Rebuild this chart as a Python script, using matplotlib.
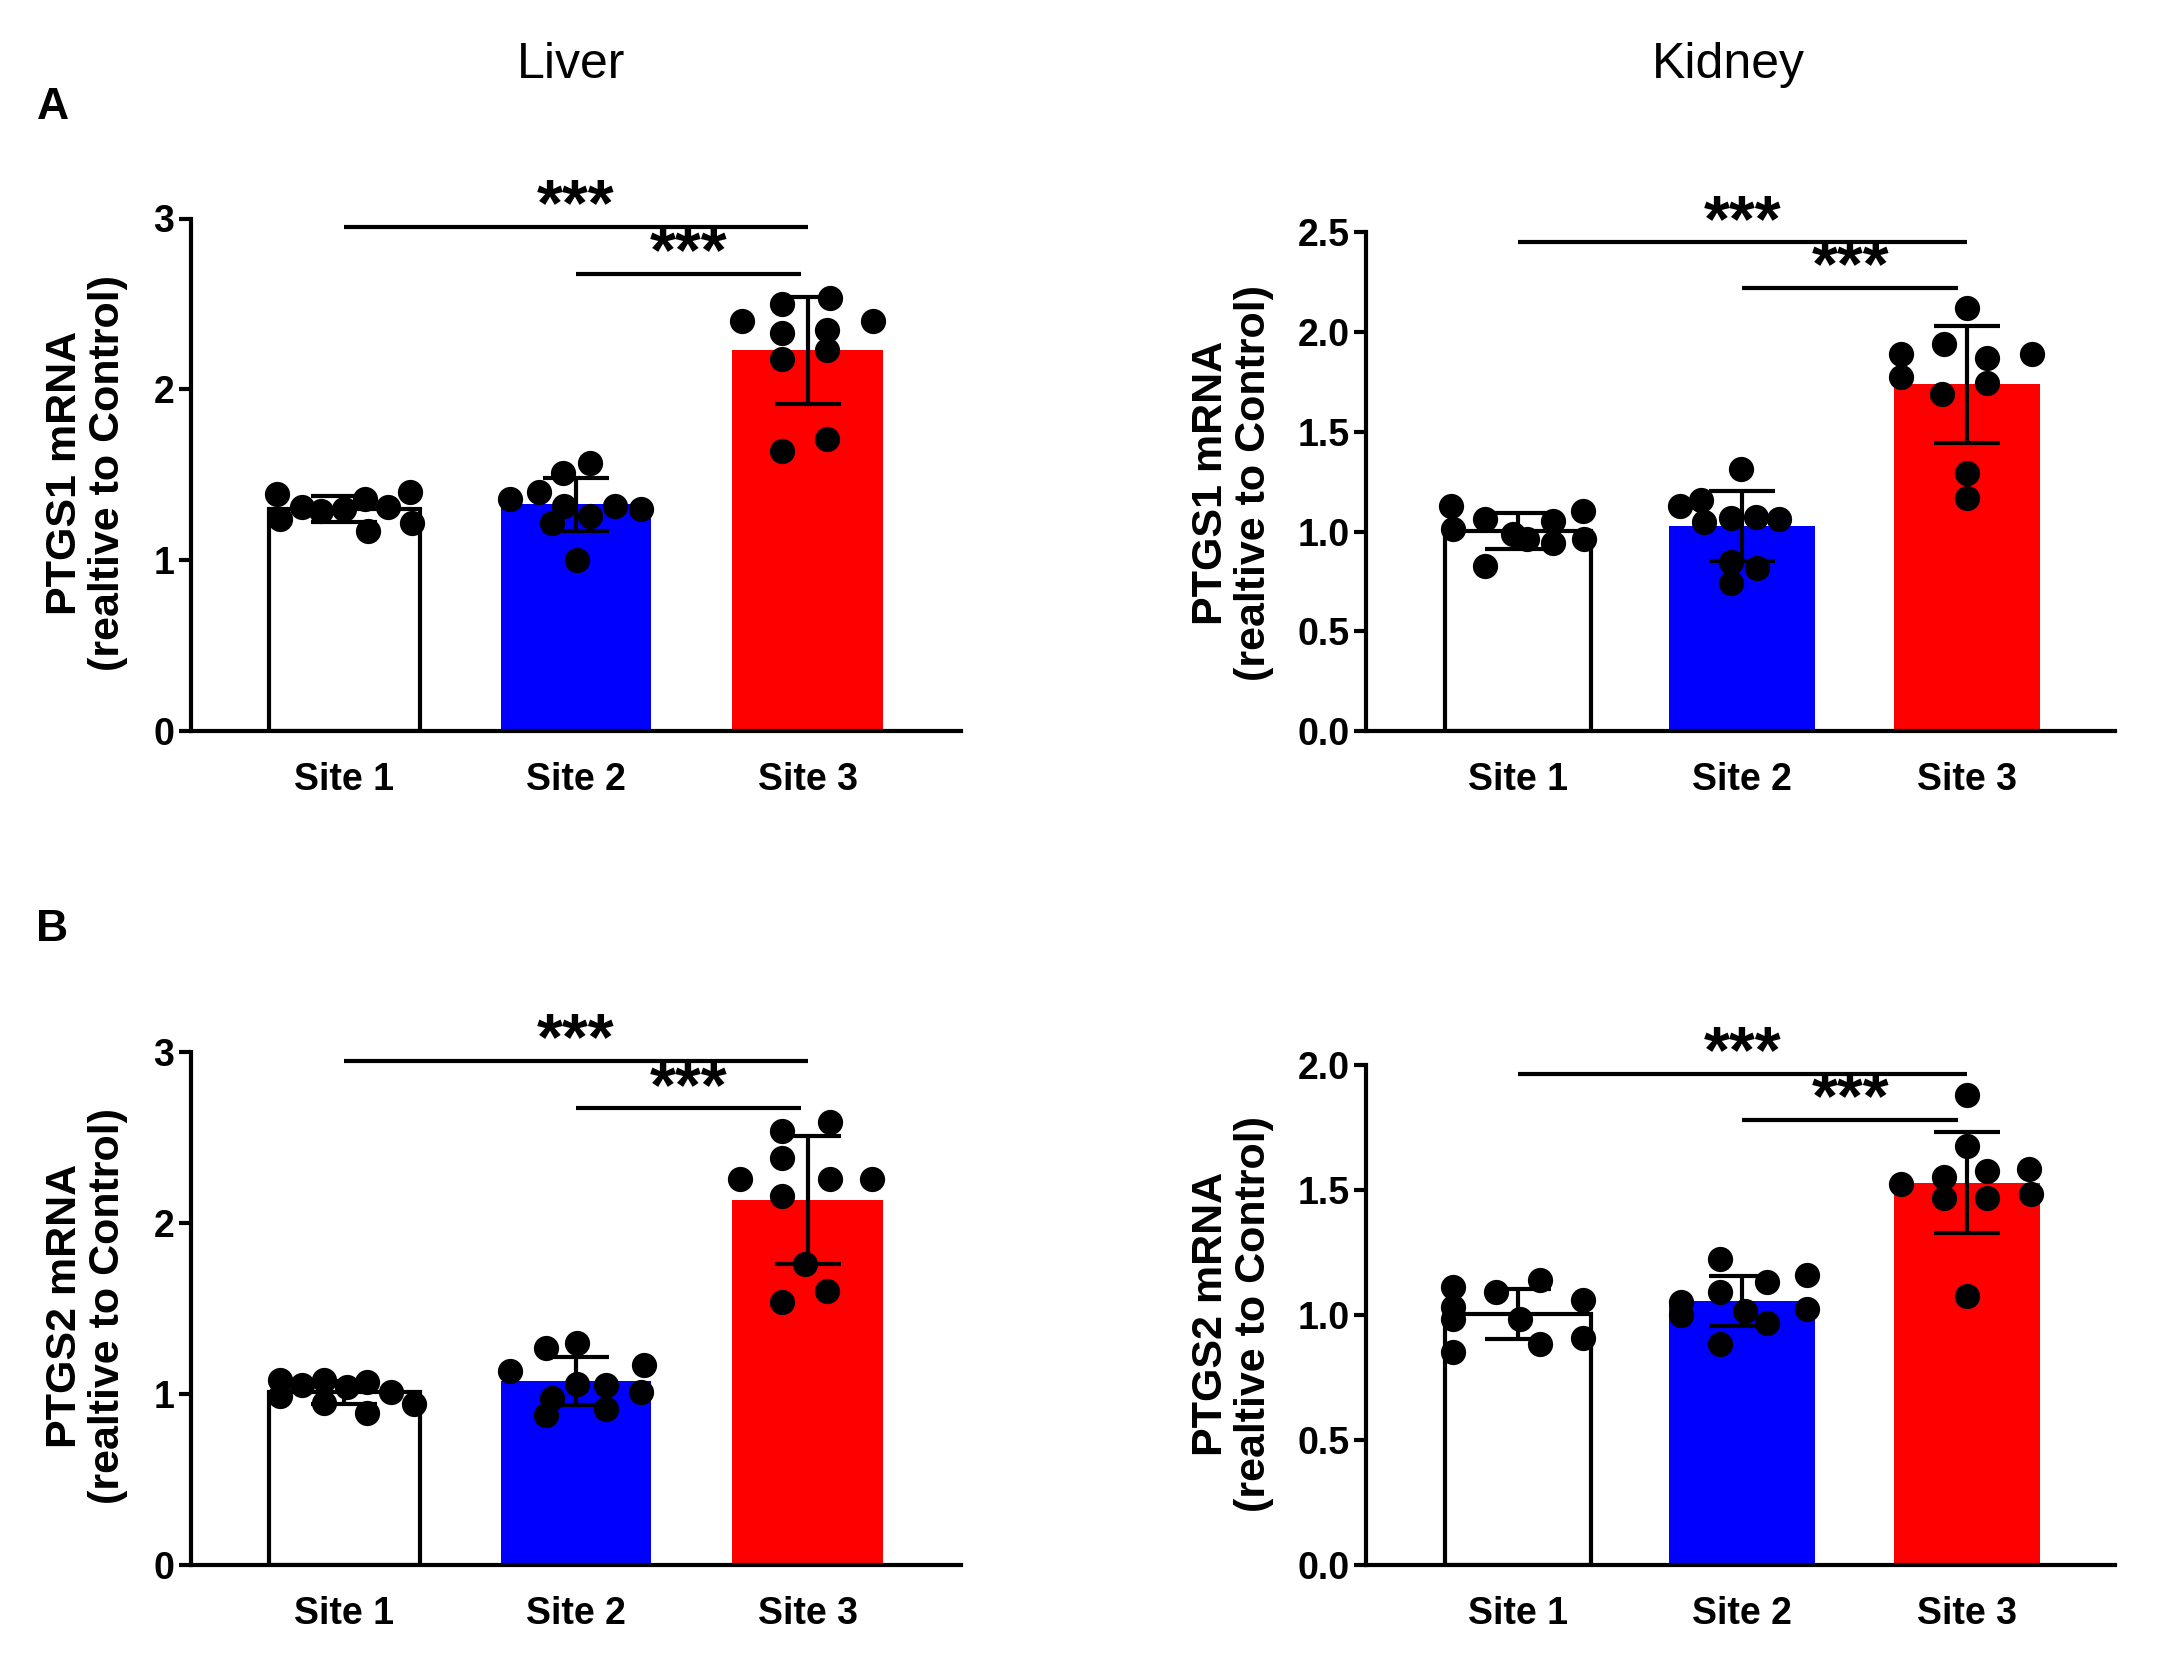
import numpy as np
import matplotlib
matplotlib.use("Agg")
import matplotlib.pyplot as plt

plt.rcParams['font.family'] = ['Liberation Sans', 'DejaVu Sans']

categories = ["Site 1", "Site 2", "Site 3"]
bar_colors = ["#FFFFFF", "#0000FF", "#FF0000"]

# ---- data: individual points (values) and horizontal scatter offsets ----
liver_ptgs1 = [
    [1.39, 1.24, 1.31, 1.29, 1.30, 1.36, 1.17, 1.31, 1.40, 1.22],
    [1.36, 1.40, 1.51, 1.57, 1.32, 1.00, 1.26, 1.32, 1.30, 1.22],
    [2.40, 2.50, 2.535, 2.33, 2.35, 2.40, 2.18, 2.23, 1.64, 1.71],
]
liver_ptgs1_dx = [
    [-0.29, -0.28, -0.185, -0.10, 0.0, 0.09, 0.10, 0.19, 0.285, 0.29],
    [-0.285, -0.16, -0.055, 0.06, -0.05, 0.005, 0.06, 0.17, 0.28, -0.105],
    [-0.285, -0.11, 0.095, -0.11, 0.085, 0.285, -0.11, 0.085, -0.11, 0.085],
]
kidney_ptgs1 = [
    [1.127, 1.015, 1.065, 0.825, 0.99, 0.96, 1.055, 0.94, 1.105, 0.96],
    [1.13, 1.16, 1.315, 1.05, 1.07, 1.075, 1.065, 0.74, 0.815, 0.845],
    [1.89, 1.775, 1.94, 2.12, 1.87, 1.89, 1.69, 1.745, 1.295, 1.17],
]
kidney_ptgs1_dx = [
    [-0.30, -0.29, -0.145, -0.145, -0.02, 0.04, 0.155, 0.155, 0.29, 0.295],
    [-0.28, -0.185, -0.005, -0.17, -0.05, 0.06, 0.165, -0.05, 0.065, -0.05],
    [-0.295, -0.295, -0.10, 0.0, 0.09, 0.29, -0.11, 0.09, 0.0, 0.0],
]
liver_ptgs2 = [
    [1.08, 0.99, 1.05, 1.08, 0.95, 1.04, 1.07, 0.89, 1.01, 0.94],
    [1.134, 1.268, 1.298, 1.17, 0.878, 1.06, 1.05, 0.915, 1.012, 0.976],
    [2.256, 2.537, 2.59, 2.378, 2.256, 2.256, 2.159, 1.76, 1.60, 1.537],
]
liver_ptgs2_dx = [
    [-0.28, -0.28, -0.185, -0.09, -0.09, 0.01, 0.097, 0.097, 0.20, 0.30],
    [-0.285, -0.13, 0.005, 0.295, -0.13, 0.005, 0.13, 0.13, 0.28, -0.105],
    [-0.29, -0.11, 0.095, -0.11, 0.095, 0.28, -0.11, -0.01, 0.085, -0.11],
]
kidney_ptgs2 = [
    [1.11, 1.033, 0.983, 0.85, 1.092, 0.983, 1.14, 0.883, 1.058, 0.908],
    [1.05, 1.0, 1.225, 1.092, 0.883, 1.133, 0.967, 1.158, 1.025, 1.017],
    [1.525, 1.55, 1.88, 1.675, 1.575, 1.583, 1.467, 1.467, 1.483, 1.075],
]
kidney_ptgs2_dx = [
    [-0.29, -0.29, -0.29, -0.29, -0.10, 0.01, 0.10, 0.10, 0.29, 0.29],
    [-0.275, -0.275, -0.10, -0.10, -0.10, 0.11, 0.11, 0.29, 0.29, 0.01],
    [-0.295, -0.10, 0.0, 0.0, 0.09, 0.275, -0.10, 0.09, 0.285, 0.0],
]

# significance brackets: (from, to, height, label)
liver_ptgs1_sig = [(0, 2, 2.95, "***"), (1, 1.97, 2.677, "***")]
kidney_ptgs1_sig = [(0, 2, 2.453, "***"), (1, 1.96, 2.223, "***")]
liver_ptgs2_sig = [(0, 2, 2.946, "***"), (1, 1.97, 2.67, "***")]
kidney_ptgs2_sig = [(0, 2, 1.963, "***"), (1, 1.96, 1.78, "***")]

liver_ticks = [0, 1, 2, 3]
liver_ticklabels = ["0", "1", "2", "3"]
kidney1_ticks = [0.0, 0.5, 1.0, 1.5, 2.0, 2.5]
kidney1_ticklabels = ["0.0", "0.5", "1.0", "1.5", "2.0", "2.5"]
kidney2_ticks = [0.0, 0.5, 1.0, 1.5, 2.0]
kidney2_ticklabels = ["0.0", "0.5", "1.0", "1.5", "2.0"]

W, H = 2157, 1677
fig = plt.figure(figsize=(W / 100, H / 100), dpi=100)
fig.patch.set_facecolor("white")


def px_axes(left, right, y0, ytop):
    return fig.add_axes([left / W, 1 - y0 / H, (right - left) / W, (y0 - ytop) / H])


LW = 3.0


def draw_panel(ax, pts, dxs, sig, ticks, ticklabels, ymax, xlim, star_dy):
    x = np.arange(len(categories))
    means = [np.mean(p) for p in pts]
    sds = [np.std(p, ddof=1) for p in pts]
    for i in range(3):
        ec = "black" if i == 0 else bar_colors[i]
        ax.bar(x[i], means[i], width=0.65, color=bar_colors[i], edgecolor=ec,
               linewidth=LW if i == 0 else 0, zorder=1)
    for i in range(3):
        ax.scatter(x[i] + np.array(dxs[i]), pts[i], s=330, color="black",
                   zorder=3, clip_on=False, linewidths=0)
    ax.errorbar(x, means, yerr=sds, fmt="none", ecolor="black", elinewidth=LW,
                capsize=24, capthick=LW, zorder=4, clip_on=False)
    for (a, b, h, lab) in sig:
        ax.plot([a, b], [h, h], color="black", lw=LW, clip_on=False,
                solid_capstyle="butt")
        ax.text((a + b) / 2, h + star_dy, lab, ha="center", va="center",
                fontsize=48, fontweight="bold", clip_on=False)
    ax.set_xlim(*xlim)
    ax.set_ylim(0, ymax)
    ax.set_xticks(x)
    ax.set_xticklabels(categories, fontsize=27, fontweight="bold")
    ax.set_yticks(ticks)
    ax.set_yticklabels(ticklabels, fontsize=27, fontweight="bold")
    ax.tick_params(axis="x", length=0, pad=22)
    ax.tick_params(axis="y", length=9, width=LW, pad=3, direction="out")
    for s in ["top", "right"]:
        ax.spines[s].set_visible(False)
    for s in ["left", "bottom"]:
        ax.spines[s].set_linewidth(LW)


# Panel A liver
ax1 = px_axes(191, 961, 731, 218.5)
draw_panel(ax1, liver_ptgs1, liver_ptgs1_dx, liver_ptgs1_sig, liver_ticks,
           liver_ticklabels, 3, (-0.663, 2.663), 0.11)
# Panel A kidney
ax2 = px_axes(1366, 2115, 731, 232.3)
draw_panel(ax2, kidney_ptgs1, kidney_ptgs1_dx, kidney_ptgs1_sig, kidney1_ticks,
           kidney1_ticklabels, 2.5, (-0.677, 2.66), 0.09)
# Panel B liver
ax3 = px_axes(191, 961, 1565, 1052)
draw_panel(ax3, liver_ptgs2, liver_ptgs2_dx, liver_ptgs2_sig, liver_ticks,
           liver_ticklabels, 3, (-0.663, 2.663), 0.11)
# Panel B kidney
ax4 = px_axes(1366, 2115, 1565, 1064.7)
draw_panel(ax4, kidney_ptgs2, kidney_ptgs2_dx, kidney_ptgs2_sig, kidney2_ticks,
           kidney2_ticklabels, 2.0, (-0.677, 2.66), 0.075)

lab_kw = dict(rotation=90, ha="center", va="center", fontsize=31,
              fontweight="bold", multialignment="center", linespacing=1.1)
fig.text(86.5 / W, 0.718, "PTGS1 mRNA\n(realtive to Control)", **lab_kw)
fig.text(1232.7 / W, 0.712, "PTGS1 mRNA\n(realtive to Control)", **lab_kw)
fig.text(86.5 / W, 0.221, "PTGS2 mRNA\n(realtive to Control)", **lab_kw)
fig.text(1232.7 / W, 0.2167, "PTGS2 mRNA\n(realtive to Control)", **lab_kw)

fig.text(571 / W, 0.961, "Liver", ha="center", va="center", fontsize=36)
fig.text(1728 / W, 0.961, "Kidney", ha="center", va="center", fontsize=36)
fig.text(52.5 / W, 0.9357, "A", ha="center", va="center", fontsize=32,
         fontweight="bold")
fig.text(52.5 / W, 0.446, "B", ha="center", va="center", fontsize=32,
         fontweight="bold")

fig.savefig("out.png", dpi=100, facecolor="white")
